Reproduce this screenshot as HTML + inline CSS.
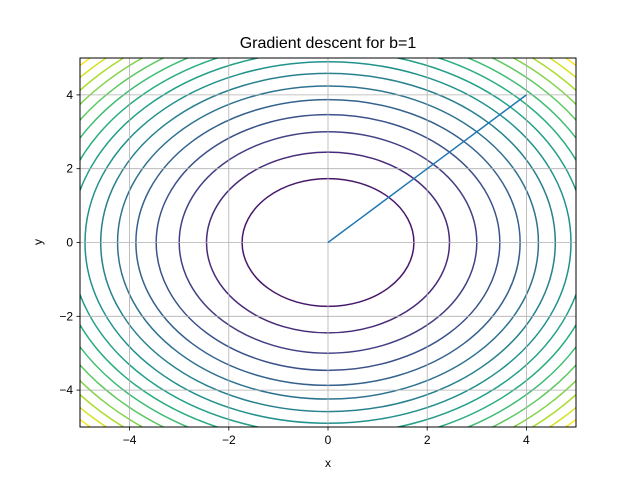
<!DOCTYPE html>
<html><head><meta charset="utf-8"><style>
body{margin:0;background:#fff}
svg{display:block;font-family:"Liberation Sans","DejaVu Sans",sans-serif}
</style></head><body>
<svg id="chart" width="640" height="480">
<defs><clipPath id="clip"><rect x="80" y="58" width="496" height="369"/></clipPath></defs>
<rect x="0" y="0" width="640" height="480" fill="#fff"/>
<g id="contours" clip-path="url(#clip)"></g>
<g id="grid"></g>
<g id="pathg" clip-path="url(#clip)"></g>
<rect x="80" y="58" width="496" height="369" fill="none" stroke="#000" stroke-width="1"/>
<g id="ticks"></g>
<text x="328" y="48" text-anchor="middle" font-size="16">Gradient descent for b=1</text>
<text x="328" y="467" text-anchor="middle" font-size="12">x</text>
<text x="42" y="242" text-anchor="middle" font-size="12" transform="rotate(-90 42 242)">y</text>
</svg>
<script>
const levels = [3,6,9,12,15,18,21,24,27,30,33,36,39,42,45,48];
const xTicks = [-4,-2,0,2,4];
const yTicks = [-4,-2,0,2,4];
const pathX = [4,2,1,0.5,0.25,0.125,0.0625,0];
const pathY = [4,2,1,0.5,0.25,0.125,0.0625,0];
const NS="http://www.w3.org/2000/svg";
const X0=80,X1=576,Y0=427,Y1=58;
const sx=v=>X0+(v+5)/10*(X1-X0);
const sy=v=>Y0-(v+5)/10*(Y0-Y1);
const vir=["#440154","#482475","#414487","#355f8d","#2a788e","#21918c","#22a884","#44bf70","#7ad151","#bddf26","#fde725"];
function hex(h){return [1,3,5].map(i=>parseInt(h.substr(i,2),16));}
function cmap(t){t=Math.max(0,Math.min(1,t))*10;const i=Math.min(9,Math.floor(t)),f=t-i;const a=hex(vir[i]),b=hex(vir[i+1]);return "rgb("+a.map((v,k)=>Math.round(v+(b[k]-v)*f)).join(",")+")";}
function mk(tag,attrs,parent){const e=document.createElementNS(NS,tag);for(const k in attrs)e.setAttribute(k,attrs[k]);parent.appendChild(e);return e;}
const cg=document.getElementById('contours');
const lmax=levels[levels.length-1];
levels.forEach((l)=>{const r=Math.sqrt(l);
 const e=mk('ellipse',{cx:sx(0),cy:sy(0),rx:sx(r)-sx(0),ry:sy(0)-sy(r),fill:'none',stroke:cmap(l/lmax),'stroke-width':1.5},cg);
 
 
});
const gg=document.getElementById('grid'),tg=document.getElementById('ticks');
xTicks.forEach(v=>{const x=sx(v);
 mk('line',{x1:x,x2:x,y1:Y1,y2:Y0,stroke:'#b0b0b0','stroke-width':0.8},gg);
 mk('line',{x1:x,x2:x,y1:Y0,y2:Y0+3.5,stroke:'#000','stroke-width':0.8},tg);
 const t=mk('text',{x:x,y:Y0+17,'text-anchor':'middle','font-size':12},tg);t.textContent=(v<0?'\u2212'+(-v):v);
 
 
});
yTicks.forEach(v=>{const y=sy(v);
 mk('line',{x1:X0,x2:X1,y1:y,y2:y,stroke:'#b0b0b0','stroke-width':0.8},gg);
 mk('line',{x1:X0-3.5,x2:X0,y1:y,y2:y,stroke:'#000','stroke-width':0.8},tg);
 const t=mk('text',{x:X0-7,y:y+4,'text-anchor':'end','font-size':12},tg);t.textContent=(v<0?'\u2212'+(-v):v);
 
 
});
const pl=mk('polyline',{points:pathX.map((x,i)=>sx(x)+','+sy(pathY[i])).join(' '),fill:'none',stroke:'#1f77b4','stroke-width':1.5},document.getElementById('pathg'));


</script>
</body></html>
